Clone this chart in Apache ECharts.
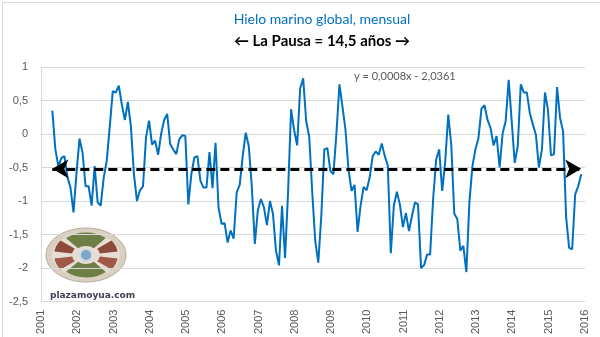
<!DOCTYPE html>
<html>
<head>
<meta charset="utf-8">
<script src="https://cdn.jsdelivr.net/npm/echarts@6/dist/echarts.min.js"></script>
<style>
html,body{margin:0;padding:0;background:#fff;}
#c{width:600px;height:337px;}
</style>
</head>
<body>
<div id="c"></div>
<script>
// ---- data ----
const titleText = 'Hielo marino global, mensual';
const subtitleText = '\u2190 La Pausa = 14,5 a\u00f1os \u2192';
const trendText = 'y = 0,0008x - 2,0361';
const startYear = 2001;
const startMonthOffset = 3.75; // months after Jan 2001 of the first value
const yearTicks = [2001,2002,2003,2004,2005,2006,2007,2008,2009,2010,2011,2012,2013,2014,2015,2016];
const pauseLevel = -0.52;
const anomalies = [
 0.35,-0.23,-0.48,-0.36,-0.33,-0.64,-0.80,-1.17,-0.58,-0.07,
 -0.28,-0.78,-0.78,-1.07,-0.48,-1.02,-1.07,-0.65,-0.40,0.11,
 0.64,0.62,0.72,0.44,0.21,0.48,0.11,-0.60,-1.00,-0.84,
 -0.78,-0.05,0.20,-0.16,-0.10,-0.31,0.00,0.21,0.30,-0.15,
 -0.23,-0.30,-0.08,-0.02,-0.03,-1.05,-0.60,-0.35,-0.33,-0.70,
 -0.80,-0.80,-0.27,-0.81,-0.13,-1.10,-1.34,-1.33,-1.62,-1.44,
 -1.56,-0.87,-0.76,-0.33,0.02,-0.18,-0.78,-1.64,-1.14,-0.97,
 -1.09,-1.36,-1.00,-1.19,-1.74,-1.96,-1.07,-1.85,-0.87,0.37,
 0.06,-0.17,0.68,0.83,0.19,-0.04,-0.87,-1.60,-1.92,-1.22,
 -0.23,-0.21,-0.55,-0.60,0.01,0.74,0.41,0.06,-0.53,-0.85,
 -0.76,-1.46,-1.07,-0.79,-0.84,-0.65,-0.33,-0.26,-0.31,-0.14,
 -0.33,-0.47,-1.78,-1.07,-0.86,-1.05,-1.39,-1.18,-1.45,-1.22,
 -1.02,-1.05,-2.00,-1.96,-1.80,-1.80,-0.97,-0.38,-0.23,-0.85,
 -0.41,0.29,-0.16,-1.19,-1.27,-1.74,-1.67,-2.06,-1.02,-0.48,
 -0.23,-0.06,0.38,0.43,0.21,0.09,-0.17,-0.03,-0.50,0.01,
 0.19,0.81,0.19,-0.43,-0.18,0.74,0.62,0.62,0.31,0.14,
 -0.01,-0.50,-0.23,0.62,0.36,-0.32,-0.30,0.70,0.24,0.04,
 -1.24,-1.70,-1.72,-0.90,-0.78,-0.60
];
// ---- build ----
const points = anomalies.map((v, i) => [startYear + (startMonthOffset + i) / 12, v]);
const firstX = points[0][0];
const lastX = points[points.length - 1][0];

const chart = echarts.init(document.getElementById('c'), null, {renderer: 'canvas'});
const FONT = 'Lato, "Open Sans", sans-serif';
chart.setOption({
  animation: false,
  backgroundColor: '#ffffff',
  grid: {left: 41, right: 15, top: 67, bottom: 33, containLabel: false},
  xAxis: {
    type: 'value', min: 2001, max: 2016, interval: 1,
    axisLine: {show: true, lineStyle: {color: '#D9D9D9'}},
    axisTick: {show: false},
    splitLine: {show: false},
    axisLabel: {rotate: 90, margin: 8, color: '#595959', fontSize: 11,
      fontFamily: '"Liberation Sans", Arial, sans-serif',
      formatter: v => String(yearTicks.includes(v) ? v : '')}
  },
  yAxis: {
    type: 'value', min: -2.5, max: 1, interval: 0.5,
    axisLine: {show: true, lineStyle: {color: '#D9D9D9'}},
    axisTick: {show: false},
    splitLine: {show: true, lineStyle: {color: '#D9D9D9', width: 1}},
    axisLabel: {color: '#595959', fontSize: 11, margin: 13,
      fontFamily: '"Liberation Sans", Arial, sans-serif',
      formatter: v => String(v).replace('.', ',')}
  },
  series: [{
    type: 'line',
    data: points,
    showSymbol: false,
    symbol: 'none',
    lineStyle: {color: '#0070C0', width: 2},
    z: 2,
    markLine: {
      silent: true,
      symbol: ['arrow', 'arrow'],
      symbolSize: [14, 16],
      label: {show: false},
      lineStyle: {color: '#000000', type: [9, 5], width: 3},
      data: [[{coord: [firstX, pauseLevel]}, {coord: [lastX, pauseLevel]}]],
      z: 5
    }
  }],
  graphic: [
    {type: 'rect', left: 0, top: 0, shape: {x: 0.5, y: 0.5, width: 598, height: 335},
     style: {fill: 'none', stroke: '#D9D9D9', lineWidth: 1}, silent: true},
    {type: 'text', x: 322, y: 12,
     style: {text: titleText, fill: '#0070C0', font: '14px ' + FONT, textAlign: 'center'}},
    {type: 'text', x: 322, y: 34,
     style: {text: subtitleText, fill: '#000000', font: 'bold 15px ' + FONT, textAlign: 'center'}},
    {type: 'text', x: 354, y: 71,
     style: {text: trendText, fill: '#595959', font: '11px ' + FONT}},
    // logo approximation
    {type: 'group', x: 46, y: 228, children: [
      {type: 'ellipse', shape: {cx: 40, cy: 27, rx: 40, ry: 27},
       style: {fill: '#d9d0c2', stroke: '#b8ad9c', lineWidth: 1}},
      {type: 'ellipse', shape: {cx: 40, cy: 27, rx: 34, ry: 22},
       style: {fill: '#e6ded2'}},
      {type: 'sector', shape: {cx: 40, cy: 27, r0: 12, r: 30, startAngle: -2.3, endAngle: -0.85},
       style: {fill: '#6f7e45'}, scaleY: 0.75, originY: 27, originX: 40},
      {type: 'sector', shape: {cx: 40, cy: 27, r0: 12, r: 30, startAngle: 0.85, endAngle: 2.3},
       style: {fill: '#6f7e45'}, scaleY: 0.75, originY: 27, originX: 40},
      {type: 'sector', shape: {cx: 40, cy: 27, r0: 14, r: 32, startAngle: -0.65, endAngle: -0.15},
       style: {fill: '#8c4a3c'}, scaleY: 0.75, originY: 27, originX: 40},
      {type: 'sector', shape: {cx: 40, cy: 27, r0: 14, r: 32, startAngle: 0.15, endAngle: 0.65},
       style: {fill: '#a0584a'}, scaleY: 0.75, originY: 27, originX: 40},
      {type: 'sector', shape: {cx: 40, cy: 27, r0: 14, r: 32, startAngle: Math.PI - 0.65, endAngle: Math.PI - 0.15},
       style: {fill: '#a0584a'}, scaleY: 0.75, originY: 27, originX: 40},
      {type: 'sector', shape: {cx: 40, cy: 27, r0: 14, r: 32, startAngle: Math.PI + 0.15, endAngle: Math.PI + 0.65},
       style: {fill: '#8c4a3c'}, scaleY: 0.75, originY: 27, originX: 40},
      {type: 'circle', shape: {cx: 40, cy: 27, r: 6}, style: {fill: '#7fa6c8', stroke: '#d0d8e0', lineWidth: 2}}
    ]},
    {type: 'text', x: 50, y: 291,
     style: {text: 'plazamoyua.com', fill: '#3f3f4f', font: 'bold 9px "DejaVu Sans", sans-serif'}}
  ]
});
</script>
</body>
</html>
